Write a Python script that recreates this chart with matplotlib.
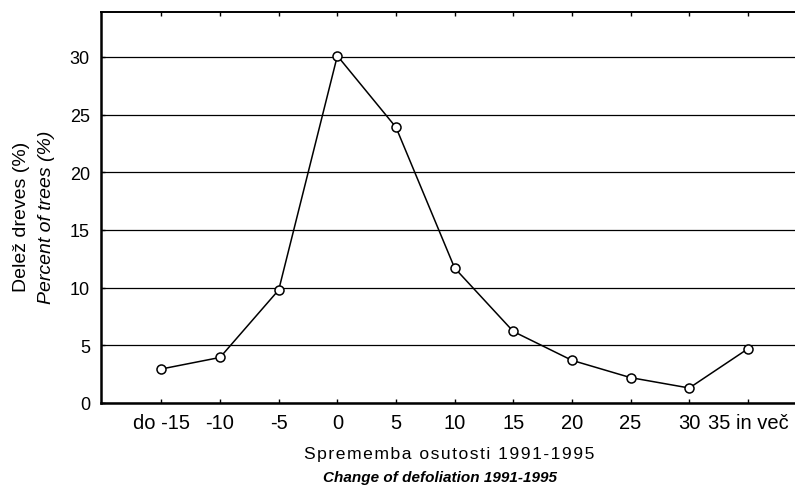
import matplotlib
matplotlib.use("Agg")
import matplotlib.pyplot as plt

categories = ["do -15", "-10", "-5", "0", "5", "10", "15", "20", "25", "30", "35 in več"]
percent_trees = [2.95, 3.95, 9.8, 30.1, 23.9, 11.7, 6.2, 3.7, 2.2, 1.3, 4.7]
y_ticks = [0, 5, 10, 15, 20, 25, 30]

plt.rcParams['font.family'] = ['Liberation Sans', 'DejaVu Sans']

fig = plt.figure(figsize=(7.95, 4.89), dpi=100)
ax = fig.add_axes([101/795, 85/489, 1 - 101/795 + 0.002, (404-13)/489])

x = list(range(len(categories)))
ax.plot(x, percent_trees, color='black', linewidth=1.1, marker='o', markersize=6.5,
        markerfacecolor='white', markeredgecolor='black', markeredgewidth=1.1, zorder=3, clip_on=False)

ax.set_xlim(-1.03, 10.83)
ax.set_ylim(0, 33.9)
ax.set_yticks(y_ticks)
ax.set_yticklabels([str(v) for v in y_ticks], fontsize=13)
ax.set_xticks(x)
ax.set_xticklabels(categories, fontsize=14.5)
ax.yaxis.grid(True, color='black', linewidth=0.9)
ax.set_axisbelow(True)

ax.tick_params(axis='x', direction='in', length=3, width=1, top=True, pad=7)
ax.tick_params(axis='y', direction='in', length=3, width=1, pad=8)

ax.spines['right'].set_visible(False)
ax.spines['left'].set_linewidth(1.8)
ax.spines['bottom'].set_linewidth(1.8)
ax.spines['top'].set_linewidth(1.4)

fig.text(0.0275, 0.556, "Delež dreves (%)", rotation=90, fontsize=14, ha='center', va='center')
fig.text(0.059, 0.556, "Percent of trees (%)", rotation=90, fontsize=14, style='italic', ha='center', va='center')

hs = "\u200a"
label1 = hs.join("Sprememba osutosti 1991-1995")
fig.text(0.5645, (489-455)/489, label1, fontsize=12.6, ha='center', va='center')
fig.text(0.553, (489-478)/489, "Change of defoliation 1991-1995", fontsize=11, style='italic',
         weight='bold', ha='center', va='center')

fig.savefig("out.png", dpi=100)
